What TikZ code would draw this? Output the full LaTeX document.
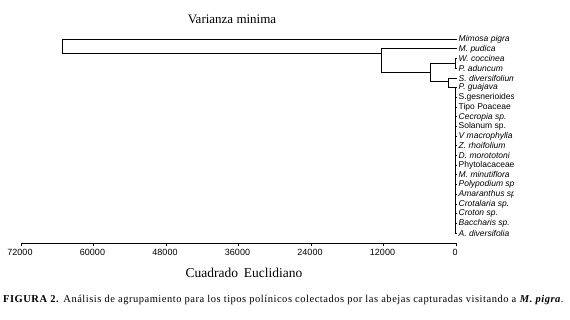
\documentclass[tikz,border=0pt]{standalone}
\usepackage{fontspec}
\setmainfont{Liberation Serif}
\newfontfamily\arialfont{Liberation Sans}
\usepackage{tikz}
\usetikzlibrary{positioning, calc}
\tikzset{
  x=1pt, y=-1pt,
  tree/.style={line width=1pt, draw=black},
  leaf/.style={anchor=west, inner xsep=1.5pt, inner ysep=0pt,
    font=\arialfont\fontsize{8.5}{9}\selectfont},
  ticklab/.style={inner sep=0pt, font=\arialfont\fontsize{9}{10}\selectfont},
  heading/.style={inner sep=0pt, font=\fontsize{13}{15}\selectfont},
  caption/.style={anchor=west, inner sep=0pt,
    font=\fontsize{10.5}{12}\selectfont\addfontfeatures{LetterSpace=4.9}}
}

\begin{document}
\begin{tikzpicture}
  \useasboundingbox (0,0) rectangle (570,320);
  \node[heading] (ttl) at (232,19) {Varianza minima};
  % leaf labels, cut at the right like the original
  \begin{scope}
    \clip (0,0) rectangle (513,320);
    \foreach \t [count=\i] in {\textit{Mimosa pigra}, \textit{M. pudica},
      \textit{W. coccinea}, \textit{P. aduncum}, \textit{S. diversifolium},
      \textit{P. guajava}, S.gesnerioides, Tipo Poaceae, \textit{Cecropia sp.},
      Solanum sp., \textit{V macrophylla}, \textit{Z. rhoifolium},
      \textit{D. morototoni}, Phytolacaceae, \textit{M. minutiflora},
      \textit{Polypodium sp.}, \textit{Amaranthus sp.}, \textit{Crotalaria sp.},
      \textit{Croton sp.}, \textit{Baccharis sp.}, \textit{A. diversifolia}}
      \node[leaf] (l\i) at (457,{39.3+9.69*(\i-1)}) {\t};
  \end{scope}
  % joins
  \coordinate (jA) at (455,63.5);
  \coordinate (jR) at (455,87.8);
  \coordinate (jB) at (448,82);
  \coordinate (jC) at (430,73);
  \coordinate (jD) at (381,54);
  \coordinate (jE) at (62,46);
  \draw[tree] (l3.west) -| (jA);
  \draw[tree] (l4.west) -| (jA);
  \foreach \i in {6,...,21}
    \draw[tree] (l\i.west) -| (jR);
  \draw[tree] (l5.west) -| (jB);
  \draw[tree] (jR) -| (jB);
  \draw[tree] (jA) -| (jC);
  \draw[tree] (jB) -| (jC);
  \draw[tree] (l2.west) -| (jD);
  \draw[tree] (jC) -| (jD);
  \draw[tree] (l1.west) -| (jE);
  \draw[tree] (jD) -| (jE);
  % axis
  \foreach \k/\v in {0/0,1/12000,2/24000,3/36000,4/48000,5/60000,6/72000} {
    \coordinate (tk\k) at ({456-72.5*\k},243.5);
    \draw[tree] (tk\k) -- ++(0,2.5);
    \node[ticklab] (tl\k) at ({455-72.5*\k},252) {\v};
  }
  \draw[tree] (tk6) -- (tk0);
  \node[heading,font=\fontsize{13.5}{15}\selectfont] (xlab) at (244,273) {Cuadrado\ \,Euclidiano};
  \node[caption] (cap) at (3,300) {\textbf{FIGURA 2.} Análisis de agrupamiento para los tipos polínicos colectados por las abejas capturadas visitando a \textbf{\textit{M. pigra}}.};
\end{tikzpicture}
\end{document}
